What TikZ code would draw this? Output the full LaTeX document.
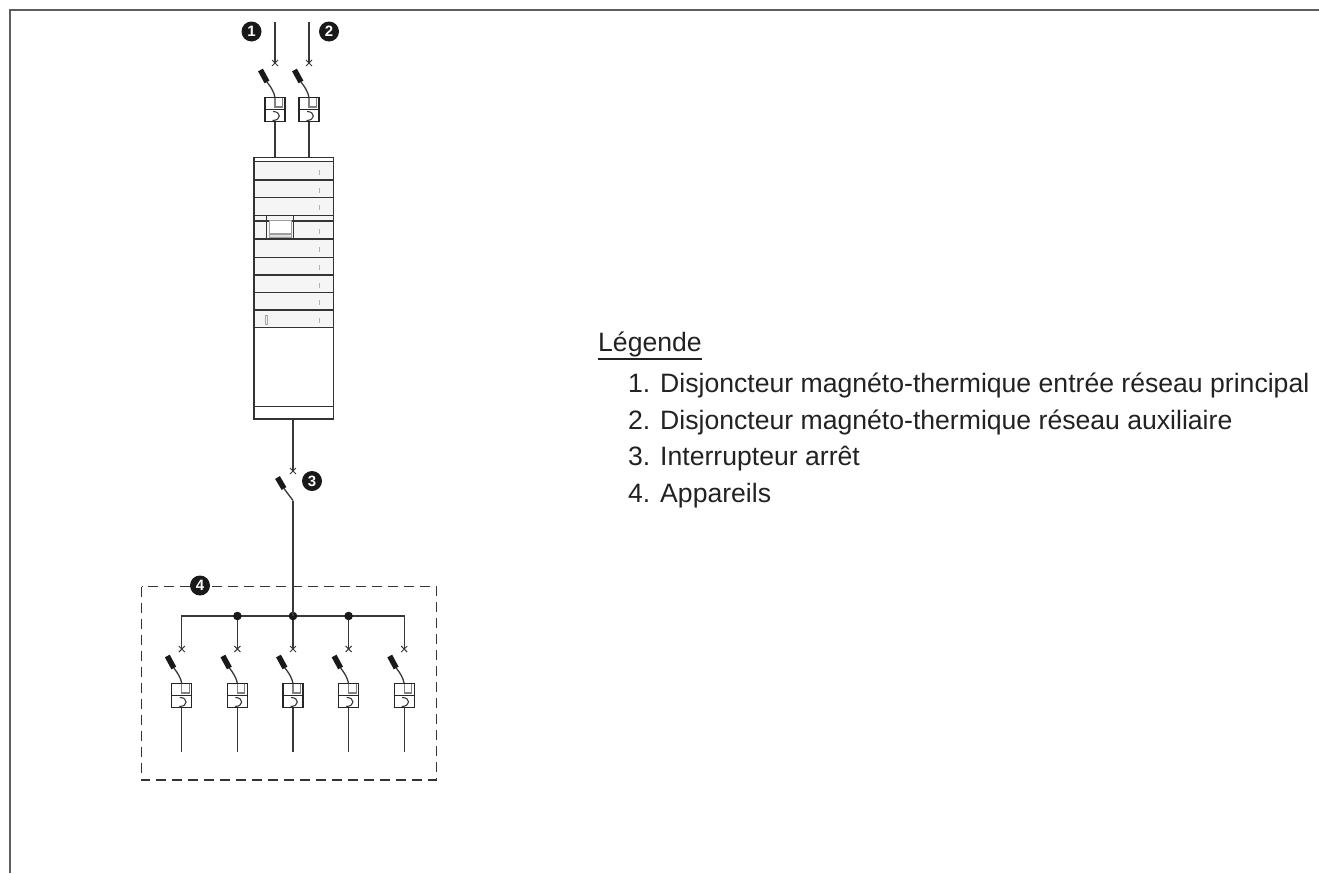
\documentclass[tikz,border=0pt]{standalone}
\usepackage{fontspec}
\setmainfont{Liberation Sans}
\usetikzlibrary{calc}
\definecolor{wirec}{HTML}{383838}
\definecolor{framec}{HTML}{5E5E5E}
\definecolor{txtc}{HTML}{222222}
\tikzset{
  wire/.style={draw=wirec, line width=1.3pt},
  blade/.style={draw=black!90, line width=5.5pt},
  boxline/.style={draw=black!85, line width=1.3pt},
  cabline/.style={draw=black!80, line width=1.1pt},
  marker/.style={circle, fill=black!90, text=white, inner sep=0pt, minimum size=#1,
                 font=\fontsize{15}{15}\selectfont\bfseries},
  legtext/.style={anchor=base west, inner sep=0pt, text=txtc, font=\fontsize{26.6}{30}\selectfont},
  brk/.pic={
    \coordinate (-x) at (0,0);
    \coordinate (-top) at (0,34.5);
    \coordinate (-bot) at (0,58.5);
    \draw[wire, line width=1pt] (-3,-3)--(3,3) (-3,3)--(3,-3);
    \draw[blade] (-14.5,7)--(-8,19);
    \draw[wire] (-8,19) .. controls (-4,24) and (-1,29) .. (-top);
    \draw[boxline] (-10,34.5) rectangle (10,58.5);
    \draw[boxline] (-10,46.5)--(10,46.5);
    \draw[draw=gray, line width=1.1pt] (0,34.5)--(0,44)--(7.5,44)--(7.5,34.5);
    \draw[wire, line width=1.1pt] (-2,48.5) .. controls (6.5,48.5) and (6.5,57.5) .. (-2.5,57.5);
  },
  swpic/.pic={
    \coordinate (-x) at (0,0);
    \coordinate (-bot) at (0,29.5);
    \draw[wire, line width=1pt] (-3,-3)--(3,3) (-3,3)--(3,-3);
    \draw[blade] (-15.5,6.5)--(-9,17.5);
    \draw[wire] (-9,17.5)--(-bot);
  }
}
\begin{document}
\begin{tikzpicture}[x=1pt,y=-1pt]
\useasboundingbox (0,0) rectangle (1319,873);
% frame
\draw[framec, line width=2pt] (9.5,873) -- (9.5,9.5) -- (1319,9.5);

% ---- cabinet ----
\fill[gray!8] (253.3,161.7) rectangle (332.7,327.7);
\node[draw=black!80, line width=1.3pt, minimum width=79.4pt, minimum height=261.3pt,
      inner sep=0pt, anchor=north west] (cab) at (253.3,157) {};
\foreach \yy in {161.7,180,197.7,215.7,221,239,257.3,275,292.3,310,327.7,406.7}
  \draw[cabline] (253.3,\yy) -- (332.7,\yy);
\foreach \yy in {172.7,190,207.7,231.7,249.3,267.3,285,302.7,320}
  \draw[gray!60, line width=1pt] (319,\yy-2.5) -- (319,\yy+2.5);
\draw[cabline] (266.7,215.7) -- (266.7,239) (293.3,215.7) -- (293.3,239);
\draw[gray!75, line width=1pt, fill=white] (269.5,220.5) rectangle (291.5,233.5);
\draw[gray!75, line width=0.8pt, fill=gray!25] (269.5,234.5) rectangle (291.5,237.5);
\draw[gray!70, line width=0.8pt] (265,315) rectangle (267.5,324);

% ---- top breakers ----
\coordinate (in1) at (275,22);
\coordinate (in2) at (309,22);
\pic (b1) at (275,63) {brk};
\pic (b2) at (309,63) {brk};
\draw[wire] (in1) -- (b1-x);
\draw[wire] (in2) -- (b2-x);
\draw[wire] (b1-bot) -- (b1-bot |- cab.north);
\draw[wire] (b2-bot) -- (b2-bot |- cab.north);
\node[marker=20pt] (m1) at (251.5,31.5) {1};
\node[marker=20pt] (m2) at (329,31.5) {2};

% ---- main switch ----
\pic (s3) at (293,471) {swpic};
\draw[wire] (cab.south -| s3-x) -- (s3-x);
\node[marker=20pt] (m3) at (312,481) {3};

% ---- appliances box ----
\draw[black!80, line width=1.2pt, dash pattern=on 10pt off 6pt] (141.7,586.7) rectangle (436.7,780);
\node[marker=20pt] (m4) at (200,585.5) {4};
\foreach \i in {1,...,5}{
  \coordinate (bus\i) at ({293+(\i-3)*55.6},616);
  \pic (d\i) at ({293+(\i-3)*55.6},649) {brk};
  \coordinate (end\i) at ({293+(\i-3)*55.6},751.7);
  \draw[wire] (d\i-bot) -- (end\i);
}
\draw[wire] (d1-x) -- (bus1) -- (bus5) -- (d5-x);
\foreach \i in {2,3,4}{
  \draw[wire] (bus\i) -- (d\i-x);
  \fill[black!90] (bus\i) circle (4.3pt);
}
\draw[wire] (s3-bot) -- (bus3);

% ---- legend ----
\node[legtext] (leg) at (598,351) {Légende};
\draw[txtc, line width=1.6pt] ($(leg.base west)+(0,8)$) -- ($(leg.base east)+(0,8)$);
\node[legtext] (l1) at (628,392.5) {1. Disjoncteur magnéto-thermique entrée réseau principal};
\node[legtext] (l2) at (628,429) {2. Disjoncteur magnéto-thermique réseau auxiliaire};
\node[legtext] (l3) at (628,465.5) {3. Interrupteur arrêt};
\node[legtext] (l4) at (628,502) {4. Appareils};
\end{tikzpicture}
\end{document}
